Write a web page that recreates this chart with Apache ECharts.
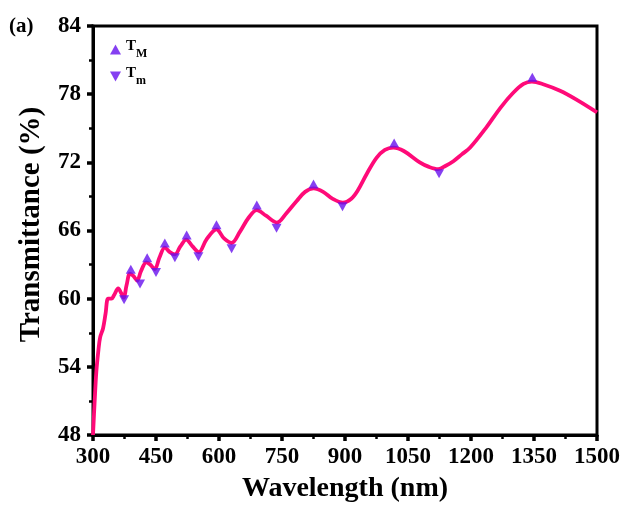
<!DOCTYPE html>
<html>
<head>
<meta charset="utf-8">
<script src="https://cdn.jsdelivr.net/npm/echarts@6/dist/echarts.min.js"></script>
<style>html,body{margin:0;padding:0;background:#fff}#c{width:623px;height:508px}</style>
</head>
<body>
<div id="c"></div>
<script>
const wavelength = [300,304,308,313,317,324,330,336,344,350,360,367,373,380,388,396,405,414,427,436,447,458,471,483,495,508,522,537,552,570,594,612,630,650,670,690,712,738,760,785,805,825,848,870,895,915,930,952,975,995,1015,1040,1078,1100,1122,1140,1158,1178,1198,1237,1270,1300,1325,1345,1370,1412,1452,1500];
const transmittance = [48,51,53.6,55.5,56.6,57.4,58.7,60.0,60.0,60.3,60.9,60.5,60.1,61.2,62.2,62.0,61.6,62.4,63.2,63.0,62.6,63.6,64.5,64.1,63.9,64.6,65.2,64.6,64.1,65.2,66.1,65.3,64.9,65.9,67.1,67.8,67.3,66.7,67.5,68.6,69.4,69.7,69.4,68.8,68.45,68.8,69.5,71.0,72.4,73.1,73.3,73.0,72.0,71.6,71.4,71.7,72.1,72.7,73.3,75.1,76.8,78.1,78.9,79.1,78.9,78.3,77.5,76.4];
const maxWl = [390,429,471,523,594,690,825,1017,1346];
const maxT  = [62.6,63.6,64.9,65.6,66.5,68.25,70.1,73.7,79.5];
const minWl = [374,412,450,495,551,630,737,894,1124];
const minT  = [59.9,61.3,62.3,63.6,63.7,64.4,66.2,68.1,71.0];
const xTicks = {min:300,max:1500,interval:150};
const yTicks = {min:48,max:84,interval:6};

const font = 'Liberation Serif';
const chart = echarts.init(document.getElementById('c'));
const pair = (a,b)=>a.map((v,i)=>[v,b[i]]);
chart.setOption({
  animation:false,
  backgroundColor:'#fff',
  grid:{left:93,right:26,top:26,bottom:73,show:true,borderColor:'#000',borderWidth:3},
  graphic:[{type:'text',left:9,top:16,style:{text:'(a)',font:'bold 21px "Liberation Serif"',fill:'#000'}}],
  legend:{
    left:105,top:34,orient:'vertical',itemGap:6,itemWidth:11,itemHeight:10,
    data:[{name:'TM',icon:'triangle'},{name:'Tm',icon:'path://M0,0L10,0L5,9Z'}],
    formatter:function(n){return n==='TM'?'{a|T}{b|M}':'{a|T}{b|m}';},
    textStyle:{fontFamily:font,fontWeight:'bold',color:'#000',
      rich:{a:{fontFamily:font,fontWeight:'bold',fontSize:15,color:'#000',verticalAlign:'top',lineHeight:15},
            b:{fontFamily:font,fontWeight:'bold',fontSize:12,color:'#000',verticalAlign:'bottom',lineHeight:21,padding:[7,0,0,0]}}}
  },
  xAxis:{type:'value',min:xTicks.min,max:xTicks.max,interval:xTicks.interval,
    name:'Wavelength (nm)',nameLocation:'middle',nameGap:40,
    nameTextStyle:{fontFamily:font,fontWeight:'bold',fontSize:28,color:'#000'},
    axisLine:{show:true,onZero:false,lineStyle:{color:'#000',width:3}},
    axisTick:{show:true,inside:false,length:6,lineStyle:{color:'#000',width:3.5}},
    minorTick:{show:true,splitNumber:2,length:4,lineStyle:{color:'#000',width:2.5}},
    splitLine:{show:false},
    axisLabel:{fontFamily:font,fontWeight:'bold',fontSize:23,color:'#000',margin:11,
      formatter:function(v){return String(v);}}},
  yAxis:{type:'value',min:yTicks.min,max:yTicks.max,interval:yTicks.interval,
    name:'Transmittance (%)',nameLocation:'middle',nameGap:47,
    nameTextStyle:{fontFamily:font,fontWeight:'bold',fontSize:29,color:'#000',padding:[0,0,0,12]},
    axisLine:{show:true,onZero:false,lineStyle:{color:'#000',width:3}},
    axisTick:{show:true,inside:false,length:6,lineStyle:{color:'#000',width:3.5}},
    minorTick:{show:true,splitNumber:2,length:4,lineStyle:{color:'#000',width:2.5}},
    splitLine:{show:false},
    axisLabel:{fontFamily:font,fontWeight:'bold',fontSize:23,color:'#000',margin:12}},
  series:[
    {type:'line',name:'curve',data:pair(wavelength,transmittance),smooth:0.35,showSymbol:false,
     lineStyle:{color:'#ff0a78',width:3.8},z:2},
    {type:'scatter',name:'TM',data:pair(maxWl,maxT),symbol:'triangle',symbolSize:[10,9],
     itemStyle:{color:'#6610ee'},z:3},
    {type:'scatter',name:'Tm',data:pair(minWl,minT),symbol:'triangle',symbolRotate:180,symbolSize:[10,9],
     itemStyle:{color:'#6610ee'},z:3}
  ]
});
</script>
</body>
</html>
